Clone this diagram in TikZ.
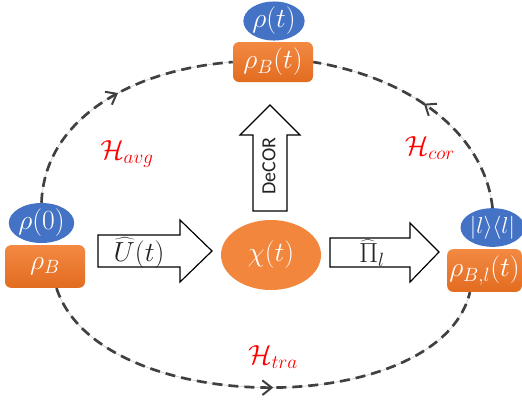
\documentclass[tikz,border=0pt]{standalone}
\usepackage{fontspec}
\newfontfamily\carlito{Carlito}
\usetikzlibrary{shapes.geometric,arrows.meta,decorations.markings}
\definecolor{boxtop}{RGB}{243,137,66}
\definecolor{boxbot}{RGB}{226,108,32}
\definecolor{ellblue}{RGB}{68,114,196}
\definecolor{ellorange}{RGB}{242,134,60}
\definecolor{dashgray}{RGB}{64,64,64}
\definecolor{textdark}{RGB}{34,34,34}
\begin{document}
\begin{tikzpicture}[x=0.75pt,y=-0.75pt,
  mathfont/.style={font=\fontsize{20.74}{24}\selectfont},
  statebox/.style={rectangle, rounded corners=4.5pt, top color=boxtop, bottom color=boxbot, draw=none, text=white, inner sep=0pt, mathfont},
  blueell/.style={ellipse, fill=ellblue, draw=none, text=white, inner sep=0pt, mathfont},
  loopline/.style={draw=dashgray, line width=2pt, dash pattern=on 7.5pt off 4.5pt, preaction={draw=gray!45, line width=0.4pt, solid}},
  midarrow/.style={postaction={decorate}, decoration={markings, mark=at position #1 with {\arrow[line width=1.5pt, dashgray]{Straight Barb[length=7pt,width=11pt]}}}},
  blockarrow/.style={draw=black, line width=0.9pt, fill=white, line join=miter},
  hlabel/.style={text=red, font=\fontsize{22}{26}\selectfont},
  arrowlabel/.style={text=textdark, mathfont}
]
\useasboundingbox[fill=white] (0,0) rectangle (522,405);

% nodes
\node[statebox, minimum width=60pt, minimum height=30pt] (topbox) at (273,62) {$\rho_B(t)$};
\node[blueell, minimum width=42pt, minimum height=28.5pt] (topell) at (274,21) {$\rho(t)$};
\node[statebox, minimum width=60pt, minimum height=32pt] (leftbox) at (45,266.5) {$\rho_B$};
\node[blueell, minimum width=42.75pt, minimum height=30pt] (leftell) at (41.5,223) {$\rho(0)$};
\node[statebox, minimum width=56pt, minimum height=32pt] (rightbox) at (484.5,270.5) {$\rho_{B,l}(t)$};
\node[blueell, minimum width=41pt, minimum height=29pt, font=\fontsize{17.28}{20}\selectfont] (rightell) at (492.5,227.5) {$|l\rangle\langle l|$};
\node[ellipse, fill=ellorange, text=white, inner sep=0pt, minimum width=75pt, minimum height=52.5pt, font=\fontsize{22}{26}\selectfont] (chi) at (271,255) {$\chi(t)$};

% block arrows
\draw[blockarrow] (98,235) -- (180,235) -- (180,220) -- (212,251) -- (180,282) -- (180,267) -- (98,267) -- cycle;
\node[arrowlabel] (ulabel) at (139,253) {$\widehat{U}(t)$};
\draw[blockarrow] (330,238) -- (410,238) -- (410,223) -- (439,252) -- (410,282) -- (410,267) -- (330,267) -- cycle;
\node[arrowlabel] (pilabel) at (372,253) {$\widehat{\Pi}_l$};
\draw[blockarrow] (253,211) -- (253,135) -- (240,135) -- (270,105) -- (300,135) -- (287,135) -- (287,211) -- cycle;
\node[rotate=90, text=textdark, font=\carlito\fontsize{15}{18}\selectfont] (decor) at (269,166) {DeCOR};

% dashed loops
\draw[loopline, midarrow=0.54] (leftell.north) .. controls +(3,-83) and +(-103,8) .. (topbox.west);
\draw[loopline, midarrow=0.52] (rightell.north) .. controls +(-7,-68) and +(107,18) .. (topbox.east);
\draw[loopline, midarrow=0.52] (leftbox.-62) .. controls +(43,132) and +(-30,128) .. (rightbox.-124);

% labels
\node[hlabel] (havg) at (127,154) {$\mathcal{H}_{avg}$};
\node[hlabel] (hcor) at (430,148) {$\mathcal{H}_{cor}$};
\node[hlabel] (htra) at (273,357) {$\mathcal{H}_{tra}$};
\end{tikzpicture}
\end{document}
